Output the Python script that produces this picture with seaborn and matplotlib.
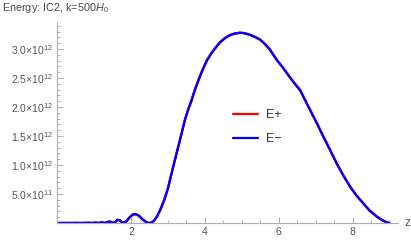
import numpy as np
import pandas as pd
import matplotlib
matplotlib.use("Agg")
import matplotlib.pyplot as plt
import seaborn as sns
from matplotlib.lines import Line2D
from matplotlib.ticker import MultipleLocator, FixedLocator

sns.set_style("white")
plt.rcParams['font.family'] = ['Liberation Sans', 'DejaVu Sans']
plt.rcParams['mathtext.default'] = 'regular'
plt.rcParams['mathtext.fontset'] = 'custom'
plt.rcParams['mathtext.rm'] = 'Liberation Sans'
plt.rcParams['mathtext.it'] = 'Liberation Sans:italic'

# data (z, energy in units of 1e12)
z_vals = [0.05, 0.6, 0.85, 0.95, 1.05, 1.12, 1.2, 1.28, 1.38, 1.43, 1.5, 1.54,
          1.58, 1.63, 1.68, 1.72, 1.78, 1.85, 1.9, 1.95, 2.03, 2.11, 2.2, 2.3,
          2.4, 2.46, 2.51, 2.56, 2.62, 2.7, 2.8, 2.9, 3.0, 3.14, 3.3, 3.46,
          3.55, 3.64, 3.72, 3.8, 3.91, 4.05, 4.18, 4.3, 4.4, 4.55, 4.68, 4.8,
          4.95, 5.05, 5.2, 5.35, 5.5, 5.62, 5.75, 5.95, 6.1, 6.25, 6.4, 6.58,
          6.85, 7.05, 7.21, 7.4, 7.57, 7.75, 7.93, 8.1, 8.29, 8.47, 8.66,
          8.8, 8.93, 9.0]
e_vals = [0.0, 0.0, 0.003, 0.0, 0.006, 0.0, 0.012, 0.0, 0.02, 0.025, 0.005, 0.0,
          0.02, 0.055, 0.05, 0.03, 0.002, 0.02, 0.05, 0.09, 0.14, 0.155, 0.13,
          0.07, 0.02, 0.004, 0.0, 0.008, 0.04, 0.11, 0.24, 0.40, 0.60, 0.97,
          1.37, 1.78, 1.96, 2.12, 2.28, 2.42, 2.60, 2.80, 2.93, 3.03, 3.11,
          3.19, 3.24, 3.265, 3.28, 3.275, 3.25, 3.21, 3.16, 3.09, 3.00, 2.81,
          2.69, 2.56, 2.43, 2.29, 1.95, 1.70, 1.49, 1.25, 1.03, 0.82, 0.63,
          0.48, 0.34, 0.21, 0.11, 0.05, 0.01, 0.0]
e_plus = [v * 1e12 for v in e_vals]
e_minus = [v * 1e12 for v in e_vals]
series_names = ["E+", "E\u2212"]
series_colors = ["#ff0000", "#0000ff"]
y_tick_vals = [0.5e12, 1.0e12, 1.5e12, 2.0e12, 2.5e12, 3.0e12]
y_tick_labels = [r"$5.0{\times}10^{11}$", r"$1.0{\times}10^{12}$", r"$1.5{\times}10^{12}$",
                 r"$2.0{\times}10^{12}$", r"$2.5{\times}10^{12}$", r"$3.0{\times}10^{12}$"]
x_tick_vals = [2, 4, 6, 8]

df = pd.DataFrame({
    "z": z_vals * 2,
    "E": e_plus + e_minus,
    "series": [series_names[0]] * len(z_vals) + [series_names[1]] * len(z_vals),
})

fig = plt.figure(figsize=(4.11, 2.43), dpi=100)
W, H = 411, 243
left_px, right_px, top_px, bottom_px = 57.3, 398, 22, 223
ax = fig.add_axes([left_px / W, (H - bottom_px) / H,
                   (right_px - left_px) / W, (bottom_px - top_px) / H])

sns.lineplot(data=df, x="z", y="E", hue="series",
             palette=dict(zip(series_names, series_colors)),
             linewidth=1.7, legend=False, ax=ax, sort=False)

ax.set_xlim(0, (right_px - left_px) / 36.9)
ax.set_ylim(0, (bottom_px - top_px) / 58.0 * 1e12)

gray = "#b0b0b0"
for s in ["top", "right"]:
    ax.spines[s].set_visible(False)
for s in ["left", "bottom"]:
    ax.spines[s].set_color(gray)
    ax.spines[s].set_linewidth(0.8)
ax.spines["bottom"].set_position(("data", 0))

ax.xaxis.set_major_locator(FixedLocator(x_tick_vals))
ax.xaxis.set_minor_locator(MultipleLocator(0.5))
ax.set_xticklabels([str(v) for v in x_tick_vals])
ax.yaxis.set_major_locator(FixedLocator(y_tick_vals))
ax.yaxis.set_minor_locator(MultipleLocator(1e11))
ax.set_yticklabels(y_tick_labels)
ax.tick_params(which="both", direction="in", color=gray, width=0.7,
               labelcolor="#555555", labelsize=7.5, bottom=True, left=True,
               top=False, right=False)
ax.tick_params(which="major", length=4.5, pad=3)
ax.tick_params(which="minor", length=2.5)
ax.set_xlabel("")
ax.set_ylabel("")

fig.text(2 / W, 1 - 8 / H, r"Energy: IC2, k=500$\mathit{H}_0$", color="#4a4a4a",
         fontsize=7.8, ha="left", va="center")
ax.text(1.02, 0, "z", transform=ax.transAxes, color="#555555", fontsize=8.5,
        ha="left", va="center")

handles = [Line2D([], [], color=c, linewidth=1.6) for c in series_colors]
leg = fig.legend(handles, series_names, loc="center left",
                 bbox_to_anchor=(222 / W, 1 - 127 / H), frameon=False,
                 fontsize=9, handlelength=2.0, handletextpad=0.6,
                 labelspacing=0.95)
for t in leg.get_texts():
    t.set_color("#333333")

fig.savefig("out.png", dpi=100)
